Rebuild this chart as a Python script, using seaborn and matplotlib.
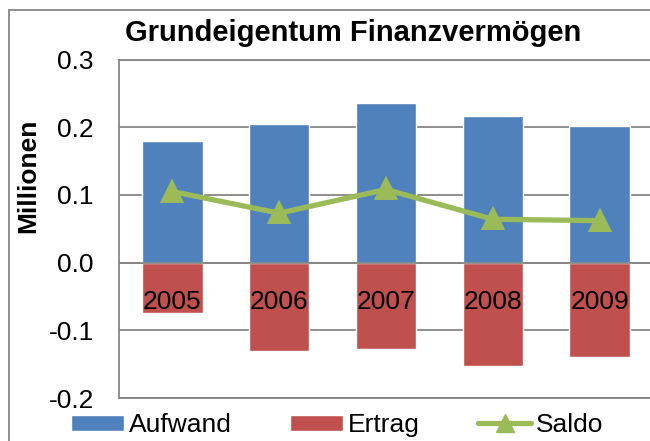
import matplotlib
matplotlib.use("Agg")
import matplotlib.pyplot as plt
from matplotlib.patches import Patch, Rectangle
from matplotlib.lines import Line2D
import seaborn as sns

# Daten (Millionen)
jahre = ["2005", "2006", "2007", "2008", "2009"]
aufwand = [0.180, 0.205, 0.236, 0.217, 0.202]
ertrag = [-0.075, -0.130, -0.128, -0.152, -0.139]
saldo = [0.105, 0.073, 0.108, 0.064, 0.062]
y_ticks = [-0.2, -0.1, 0.0, 0.1, 0.2, 0.3]

blau = "#4F81BD"
rot = "#C0504D"
gruen = "#9BBB59"
grau = "#868686"

sns.set_style("white")
plt.rcParams["font.family"] = ["Liberation Sans", "DejaVu Sans"]
plt.rcParams["text.color"] = "black"
plt.rcParams["ytick.color"] = "black"

fig = plt.figure(figsize=(6.5, 4.41), dpi=100)
ax = fig.add_axes([119 / 650, 43 / 441, 534 / 650, 338.5 / 441])

sns.barplot(x=jahre, y=aufwand, color=blau, saturation=1, width=0.567, ax=ax, zorder=2)
sns.barplot(x=jahre, y=ertrag, color=rot, saturation=1, width=0.567, ax=ax, zorder=2)
sns.pointplot(x=jahre, y=saldo, color=gruen, markers="^", markersize=13,
              linewidth=3.8, ax=ax, zorder=4)

ax.axhline(0, color=grau, lw=1.3, zorder=3)
ax.set_xlim(-0.5, 4.5)
ax.set_ylim(-0.2, 0.3)
ax.set_yticks(y_ticks)
ax.set_yticklabels([f"{t:.1f}" for t in y_ticks], fontsize=19, color="black")
ax.yaxis.grid(True, color=grau, lw=1.3, zorder=0)
ax.set_axisbelow(True)
ax.tick_params(axis="y", length=0, pad=18)
ax.set_xticks([])
ax.set_xlabel("")
ax.set_ylabel("")
for side in ["left", "bottom", "top"]:
    ax.spines[side].set_color(grau)
    ax.spines[side].set_linewidth(1.3)
ax.spines["right"].set_visible(False)

# Jahreszahlen unter der Nulllinie
for i, j in enumerate(jahre):
    ax.text(i, -0.0575, j, ha="center", va="center", fontsize=19, color="black", zorder=5)

fig.text(0.544, 0.925, "Grundeigentum Finanzvermögen", ha="center", va="center",
         fontsize=21, fontweight="bold", color="black")
fig.text(28 / 650, 1 - 176 / 441, "Millionen", ha="center", va="center",
         rotation=90, fontsize=19, fontweight="bold", color="black")

# Rahmen des Diagramms
fig.patches.append(Rectangle((9 / 650, -0.1), 1.2, 1 - 10 / 441 + 0.1,
                             transform=fig.transFigure, fill=False,
                             edgecolor=grau, lw=1.3))

handles = [Patch(facecolor=blau), Patch(facecolor=rot),
           Line2D([], [], color=gruen, lw=3.8, marker="^", markersize=13)]
fig.legend(handles, ["Aufwand", "Ertrag", "Saldo"], loc="center",
           bbox_to_anchor=(0.519, 0.036), ncol=3, frameon=False, fontsize=19,
           handlelength=2.0, handleheight=0.55, handletextpad=0.2,
           columnspacing=2.2, borderpad=0)

fig.savefig("out.png", dpi=100)
